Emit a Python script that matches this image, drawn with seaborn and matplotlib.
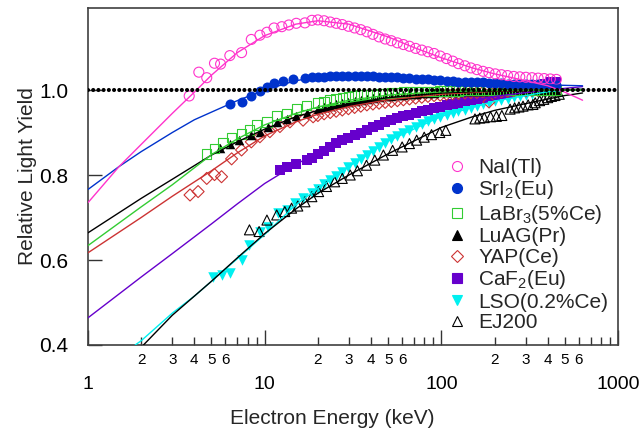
import numpy as np
import pandas as pd
import matplotlib
matplotlib.use("Agg")
import matplotlib.pyplot as plt
import seaborn as sns
from matplotlib.lines import Line2D
from matplotlib.ticker import FixedLocator, FuncFormatter

# ---------------- data ----------------
E_GRID = [20, 21.7, 23.5, 25.4, 27.5, 29.8, 32.3, 35, 37.9, 41, 44.4, 48.1, 52.1, 56.4,
          61, 66, 71.5, 77.5, 84, 91, 98.5, 107, 116, 125, 136, 147, 159, 172, 186, 202,
          219, 237, 257, 278, 301, 326, 353, 382, 414, 448]

# NaI(Tl)
nai_E_low = [3.74, 4.24, 4.7, 5.2, 5.63, 6.35, 7.4, 8.4, 9.4, 10.3, 11.3, 12.5, 13.7, 15.1, 16.9, 18.5]
nai_LY_low = [0.986, 1.042, 1.029, 1.063, 1.061, 1.081, 1.088, 1.119, 1.129, 1.136, 1.146, 1.149,
              1.153, 1.157, 1.158, 1.164]
nai_LY_grid = [1.165, 1.163, 1.160, 1.157, 1.154, 1.150, 1.146, 1.142, 1.137, 1.131, 1.125, 1.120,
               1.116, 1.111, 1.107, 1.103, 1.098, 1.094, 1.090, 1.086, 1.080, 1.074, 1.068, 1.062,
               1.057, 1.052, 1.048, 1.044, 1.041, 1.038, 1.036, 1.034, 1.032, 1.031, 1.030, 1.029,
               1.028, 1.027, 1.026, 1.025]
nai_fit_E = [1, 1.5, 2, 3, 4, 5, 7, 10, 15, 20, 30, 50, 70, 100, 150, 200, 300, 400, 500, 630]
nai_fit_LY = [0.735, 0.82, 0.872, 0.945, 0.995, 1.035, 1.088, 1.128, 1.155, 1.163, 1.155, 1.125,
              1.10, 1.076, 1.052, 1.038, 1.022, 1.010, 0.995, 0.976]

# SrI2(Eu)
sri_E_low = [6.4, 7.4, 8.4, 9.4, 10.3, 11.3, 12.7, 14.5, 16.9, 18.5]
sri_LY_low = [0.967, 0.971, 0.985, 0.998, 1.008, 1.016, 1.021, 1.025, 1.029, 1.030]
sri_LY_grid = [1.031, 1.031, 1.032, 1.032, 1.033, 1.033, 1.033, 1.033, 1.032, 1.032, 1.031, 1.031,
               1.030, 1.030, 1.029, 1.028, 1.027, 1.026, 1.025, 1.024, 1.023, 1.022, 1.021, 1.020,
               1.020, 1.019, 1.018, 1.018, 1.017, 1.016, 1.016, 1.015, 1.015, 1.014, 1.014, 1.013,
               1.013, 1.012, 1.012, 1.012]
sri_fit_E = [1, 1.5, 2, 3, 4, 5, 7, 10, 15, 20, 30, 50, 100, 200, 400, 630]
sri_fit_LY = [0.766, 0.82, 0.855, 0.90, 0.93, 0.948, 0.975, 1.0, 1.022, 1.030, 1.033, 1.031,
              1.023, 1.016, 1.012, 1.010]

# LaBr3(5%Ce)
lab_E_low = [4.7, 5.2, 5.8, 6.5, 7.4, 8.2, 9.0, 10.3, 11.7, 13.3, 15.1, 17.3]
lab_LY_low = [0.849, 0.862, 0.876, 0.888, 0.896, 0.906, 0.918, 0.925, 0.940, 0.945, 0.955, 0.963]
lab_LY_grid = [0.969, 0.973, 0.976, 0.979, 0.982, 0.984, 0.986, 0.988, 0.989, 0.990, 0.991, 0.992,
               0.993, 0.994, 0.995, 0.995, 0.996, 0.996, 0.997, 0.997, 0.998, 0.998, 0.998, 0.998,
               0.999, 0.999, 0.999, 0.999, 0.999, 1.0, 1.0, 1.0, 1.0, 1.0, 1.0, 1.0,
               1.0, 1.0, 1.0, 1.0]
lab_fit_E = [1, 2, 3, 5, 7, 10, 15, 20, 30, 50, 100, 200, 400, 630]
lab_fit_LY = [0.634, 0.725, 0.777, 0.848, 0.885, 0.918, 0.945, 0.960, 0.976, 0.988, 0.996, 0.999, 1.0, 1.0]

# LuAG(Pr)
lua_E_low = [5.6, 6.4, 7.2, 8.4, 9.4, 10.4, 11.7, 13.3, 15.1, 17.3]
lua_LY_low = [0.863, 0.872, 0.882, 0.895, 0.902, 0.912, 0.925, 0.932, 0.940, 0.947]
lua_LY_grid = [0.955, 0.959, 0.962, 0.966, 0.969, 0.972, 0.975, 0.977, 0.979, 0.981, 0.983, 0.985,
               0.986, 0.988, 0.989, 0.990, 0.991, 0.992, 0.993, 0.994, 0.995, 0.995, 0.996, 0.996,
               0.997, 0.997, 0.998, 0.998, 0.998, 0.999, 0.999, 0.999, 0.999, 1.0, 1.0, 1.0,
               1.0, 1.0, 1.0, 1.0]
lua_fit_E = [1, 2, 3, 5, 7, 10, 15, 20, 30, 50, 100, 200, 400, 630]
lua_fit_LY = [0.664, 0.745, 0.79, 0.847, 0.878, 0.908, 0.937, 0.952, 0.968, 0.982, 0.993, 0.998, 1.0, 1.0]

# YAP(Ce)
yap_E_low = [3.78, 4.2, 4.7, 5.2, 5.7, 6.5, 7.4, 8.4, 9.4, 10.7, 12.2, 13.9, 16.5, 18.8]
yap_LY_low = [0.753, 0.761, 0.792, 0.801, 0.796, 0.838, 0.859, 0.878, 0.890, 0.902, 0.914, 0.925,
              0.929, 0.937]
yap_LY_grid = [0.940, 0.944, 0.947, 0.950, 0.953, 0.956, 0.959, 0.962, 0.965, 0.967, 0.969, 0.971,
               0.973, 0.975, 0.977, 0.979, 0.981, 0.983, 0.985, 0.987, 0.988, 0.990, 0.991, 0.992,
               0.993, 0.994, 0.994, 0.995, 0.972, 0.996, 0.996, 0.997, 0.997, 0.998, 0.998, 0.999,
               0.999, 1.0, 1.0, 1.0]
yap_fit_E = [1, 2, 3, 5, 7, 10, 15, 20, 30, 50, 100, 200, 400, 630]
yap_fit_LY = [0.617, 0.70, 0.75, 0.81, 0.852, 0.892, 0.925, 0.943, 0.961, 0.977, 0.990, 0.997, 1.0, 1.002]

# CaF2(Eu)
caf_E_low = [12.2, 13.3, 15.1, 17.3, 18.5]
caf_LY_low = [0.812, 0.818, 0.827, 0.835, 0.840]
caf_LY_grid = [0.849, 0.857, 0.866, 0.875, 0.882, 0.888, 0.894, 0.900, 0.906, 0.912, 0.918, 0.924,
               0.929, 0.934, 0.938, 0.942, 0.946, 0.950, 0.954, 0.957, 0.961, 0.964, 0.967, 0.970,
               0.973, 0.976, 0.979, 0.982, 0.985, 0.988, 0.991, 0.994, 0.997, 1.0, 1.003, 1.007,
               1.011, 1.015, 1.018, 1.020]
caf_fit_E = [1, 2, 3, 5, 7, 10, 15, 20, 30, 50, 100, 200, 400, 630]
caf_fit_LY = [0.464, 0.56, 0.615, 0.685, 0.732, 0.78, 0.825, 0.852, 0.89, 0.928, 0.962, 0.985, 1.0, 1.008]

# LSO(0.2%Ce)
lso_E_low = [5.1, 5.7, 6.4, 7.4, 8.2, 9.4, 10.4, 11.9, 13.3, 14.8, 16.5, 18.5]
lso_LY_low = [0.561, 0.565, 0.570, 0.600, 0.635, 0.667, 0.678, 0.710, 0.718, 0.733, 0.745, 0.757]
lso_LY_grid = [0.768, 0.778, 0.788, 0.798, 0.808, 0.818, 0.828, 0.838, 0.848, 0.857, 0.866, 0.875,
               0.884, 0.892, 0.900, 0.907, 0.914, 0.920, 0.926, 0.932, 0.937, 0.942, 0.946, 0.950,
               0.954, 0.958, 0.962, 0.966, 0.970, 0.974, 0.977, 0.980, 0.983, 0.986, 0.988, 0.991,
               0.993, 0.995, 0.997, 0.998]
lso_fit_E = [1.85, 2, 3, 4, 5, 7, 10, 15, 20, 30, 50, 100, 200, 400, 630]
lso_fit_LY = [0.40, 0.41, 0.475, 0.515, 0.55, 0.603, 0.66, 0.73, 0.768, 0.82, 0.88, 0.938, 0.974, 0.996, 1.003]

# EJ200
ej_E = [8.2, 9.3, 10.3, 11.7, 13.0, 14.2, 15.4, 16.9, 18.5, 20.2, 22.4, 24.9, 27.5, 30.5, 33.5,
        37.7, 42, 47, 53, 60, 66, 72.5, 80, 88, 98, 106, 155, 165, 175, 190, 205, 220, 245, 260,
        275, 290, 310, 330, 340, 360, 380, 400, 420, 440, 465]
ej_LY = [0.671, 0.667, 0.694, 0.706, 0.714, 0.722, 0.727, 0.737, 0.749, 0.761, 0.773, 0.784, 0.792,
         0.800, 0.810, 0.823, 0.835, 0.847, 0.858, 0.866, 0.874, 0.882, 0.889, 0.895, 0.900, 0.905,
         0.932, 0.934, 0.935, 0.937, 0.938, 0.940, 0.955, 0.958, 0.960, 0.962, 0.965, 0.966, 0.970,
         0.975, 0.978, 0.982, 0.985, 0.987, 0.990]
ej_fit_E = [2.06, 3, 5, 7, 10, 15, 20, 30, 50, 70, 100, 150, 200, 300, 500, 630]
ej_fit_LY = [0.40, 0.47, 0.55, 0.605, 0.662, 0.72, 0.757, 0.80, 0.85, 0.88, 0.912, 0.937, 0.952,
             0.968, 0.987, 0.993]

labels = ["NaI(Tl)", "SrI$_2$(Eu)", "LaBr$_3$(5%Ce)", "LuAG(Pr)", "YAP(Ce)", "CaF$_2$(Eu)",
          "LSO(0.2%Ce)", "EJ200"]
colors = ["#ff33cc", "#0033cc", "#33cc33", "#000000", "#cc3333", "#6600cc", "#00f0f0", "#000000"]
markers = ["o", "o", "s", "^", "D", "s", "v", "^"]
filled = [False, True, False, True, False, True, True, False]
msizes = [10.0, 10.0, 9.5, 9.5, 8.5, 9.5, 10.5, 10.0]  # px

series = [
    (nai_E_low + E_GRID, nai_LY_low + nai_LY_grid, nai_fit_E, nai_fit_LY),
    (sri_E_low + E_GRID, sri_LY_low + sri_LY_grid, sri_fit_E, sri_fit_LY),
    (lab_E_low + E_GRID, lab_LY_low + lab_LY_grid, lab_fit_E, lab_fit_LY),
    (lua_E_low + E_GRID, lua_LY_low + lua_LY_grid, lua_fit_E, lua_fit_LY),
    (yap_E_low + E_GRID, yap_LY_low + yap_LY_grid, yap_fit_E, yap_fit_LY),
    (caf_E_low + E_GRID, caf_LY_low + caf_LY_grid, caf_fit_E, caf_fit_LY),
    (lso_E_low + E_GRID, lso_LY_low + lso_LY_grid, lso_fit_E, lso_fit_LY),
    (ej_E, ej_LY, ej_fit_E, ej_fit_LY),
]

# ---------------- style ----------------
sns.set_theme(style="ticks")
plt.rcParams["font.family"] = ["Liberation Sans", "DejaVu Sans"]
plt.rcParams["mathtext.fontset"] = "custom"
plt.rcParams["mathtext.rm"] = "Liberation Sans"
plt.rcParams["mathtext.default"] = "regular"

DPI = 100
FS = 15
fig = plt.figure(figsize=(6.39, 4.34), dpi=DPI)
ax = fig.add_axes([88 / 639, 1 - 345 / 434, (618 - 88) / 639, (345 - 8) / 434])
px2pt = 72.0 / DPI

# scatter data
draw_order = [6, 7, 5, 4, 3, 2, 1, 0]
for i in draw_order:
    E, LY, fE, fLY = series[i]
    df = pd.DataFrame({"E": E, "LY": LY})
    s = (msizes[i] * px2pt) ** 2
    sns.scatterplot(data=df, x="E", y="LY", ax=ax, marker=markers[i], s=s, color=colors[i],
                    linewidth=0 if filled[i] else 0.8, legend=False, zorder=3)
    coll = ax.collections[-1]
    if not filled[i]:
        coll.set_facecolor("none")
        coll.set_edgecolor(colors[i])
        coll.set_linewidth(0.8)

# fit lines
for i in draw_order:
    E, LY, fE, fLY = series[i]
    dff = pd.DataFrame({"E": fE, "LY": fLY})
    sns.lineplot(data=dff, x="E", y="LY", ax=ax, color=colors[i], lw=1.0, legend=False,
                 estimator=None, zorder=4)

# reference dotted line at 1.0
ax.axhline(1.0, color="black", lw=3.0, ls=(0, (0.001, 1.25)), dash_capstyle="round", zorder=5)

ax.set_xscale("log")
ax.set_xlim(1, 1000)
ax.set_ylim(0.4, 1.193)

ax.xaxis.set_major_locator(FixedLocator([1, 10, 100, 1000]))
ax.xaxis.set_major_formatter(FuncFormatter(lambda v, p: f"{v:g}"))
minor_pos = [m * d for d in (1, 10, 100) for m in range(2, 10)]
ax.xaxis.set_minor_locator(FixedLocator(minor_pos))


def minor_fmt(v, p):
    m = int(round(v / 10 ** np.floor(np.log10(v) + 1e-9)))
    return str(m) if m <= 6 else ""


ax.xaxis.set_minor_formatter(FuncFormatter(minor_fmt))
ax.set_yticks([0.4, 0.6, 0.8, 1.0])
ax.yaxis.set_major_formatter(FuncFormatter(lambda v, p: f"{v:.1f}"))

ax.tick_params(axis="x", which="major", direction="in", length=11, width=1.0, pad=22,
               labelsize=14, colors="#333333", labelcolor="black", top=False)
ax.tick_params(axis="x", which="minor", direction="in", length=6, width=1.0, pad=6,
               labelsize=11, colors="#333333", labelcolor="black", top=False)
ax.tick_params(axis="y", which="major", direction="in", length=10, width=1.0, pad=14,
               labelsize=FS, colors="#333333", labelcolor="black", right=False)
ax.tick_params(axis="y", which="minor", left=False, right=False)

for sp in ax.spines.values():
    sp.set_visible(True)
    sp.set_color("#404040")
    sp.set_linewidth(1.2)

ax.set_xlabel("Electron Energy (keV)", fontsize=FS, labelpad=7)
ax.xaxis.set_label_coords((332 - 88) / 530, -0.19)
ax.set_ylabel("Relative Light Yield", fontsize=FS, labelpad=2)

# legend (marker only)
handles = []
for i in range(8):
    handles.append(Line2D([], [], ls="none", marker=markers[i], markersize=msizes[i] * px2pt,
                          markerfacecolor=colors[i] if filled[i] else "none",
                          markeredgecolor=colors[i], markeredgewidth=0.8))
ax.legend(handles, labels, loc="upper left", bbox_to_anchor=(447 / 639, 1 - 158 / 434),
          bbox_transform=fig.transFigure, frameon=False, fontsize=FS, handlelength=1.0,
          handletextpad=0.5, labelspacing=0.07, borderpad=0, borderaxespad=0)

fig.savefig("out.png", dpi=DPI)
